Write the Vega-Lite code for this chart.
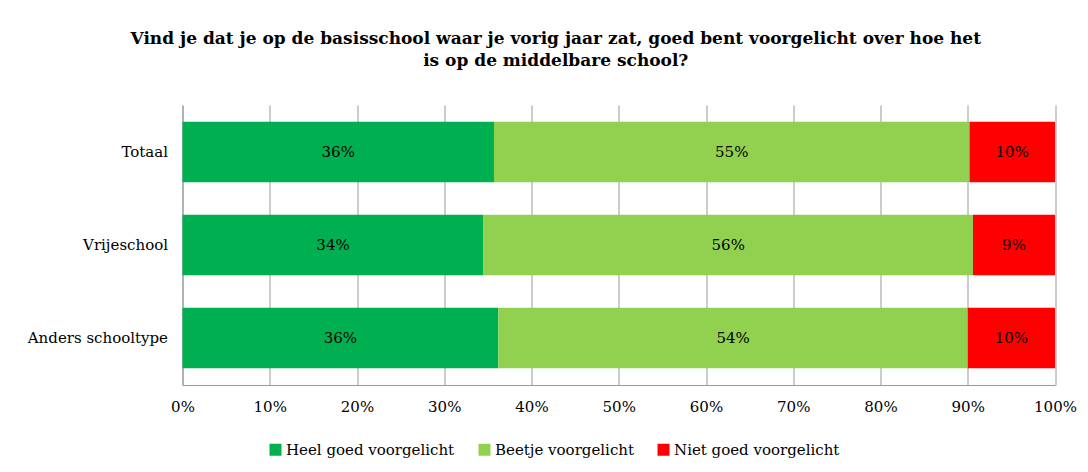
{
  "$schema": "https://vega.github.io/schema/vega-lite/v6.json",
  "autosize": "none",
  "width": 872.5,
  "height": 280,
  "padding": {"left": 182.5, "top": 105, "right": 33, "bottom": 87},
  "background": "white",
  "title": {
    "text": ["Vind je dat je op de basisschool waar je vorig jaar zat, goed bent voorgelicht over hoe het", "is op de middelbare school?"],
    "font": "DejaVu Serif",
    "fontSize": 17,
    "fontWeight": "bold",
    "color": "black",
    "anchor": "middle",
    "dx": -63,
    "offset": 35,
    "lineHeight": 22
  },
  "data": {
    "values": [
      {"category": "Totaal", "response": "Heel goed voorgelicht", "rank": 1, "value": 35.7, "label": "36%"},
      {"category": "Totaal", "response": "Beetje voorgelicht", "rank": 2, "value": 54.5, "label": "55%"},
      {"category": "Totaal", "response": "Niet goed voorgelicht", "rank": 3, "value": 9.8, "label": "10%"},
      {"category": "Vrijeschool", "response": "Heel goed voorgelicht", "rank": 1, "value": 34.5, "label": "34%"},
      {"category": "Vrijeschool", "response": "Beetje voorgelicht", "rank": 2, "value": 56.1, "label": "56%"},
      {"category": "Vrijeschool", "response": "Niet goed voorgelicht", "rank": 3, "value": 9.4, "label": "9%"},
      {"category": "Anders schooltype", "response": "Heel goed voorgelicht", "rank": 1, "value": 36.2, "label": "36%"},
      {"category": "Anders schooltype", "response": "Beetje voorgelicht", "rank": 2, "value": 53.8, "label": "54%"},
      {"category": "Anders schooltype", "response": "Niet goed voorgelicht", "rank": 3, "value": 10.0, "label": "10%"}
    ]
  },
  "transform": [
    {"stack": "value", "groupby": ["category"], "sort": [{"field": "rank", "order": "ascending"}], "as": ["v0", "v1"]},
    {"calculate": "(datum.v0 + datum.v1) / 2", "as": "mid"}
  ],
  "encoding": {
    "y": {
      "field": "category",
      "type": "nominal",
      "sort": null,
      "scale": {"paddingInner": 0.35, "paddingOuter": 0.18},
      "axis": {
        "title": null,
        "ticks": false,
        "domainColor": "#999999",
        "labelFont": "DejaVu Serif",
        "labelFontSize": 15,
        "labelColor": "black",
        "labelPadding": 15
      }
    }
  },
  "layer": [
    {
      "mark": {"type": "bar"},
      "encoding": {
        "x": {
          "field": "v0",
          "type": "quantitative",
          "scale": {"domain": [0, 100], "nice": false},
          "axis": {
            "title": null,
            "values": [0, 10, 20, 30, 40, 50, 60, 70, 80, 90, 100],
            "labelExpr": "datum.value + '%'",
            "grid": true,
            "gridColor": "#999999",
            "domainColor": "#999999",
            "ticks": false,
            "labelFont": "DejaVu Serif",
            "labelFontSize": 15,
            "labelColor": "black",
            "labelPadding": 14,
            "labelFlush": false
          }
        },
        "x2": {"field": "v1"},
        "color": {
          "field": "response",
          "type": "nominal",
          "sort": ["Heel goed voorgelicht", "Beetje voorgelicht", "Niet goed voorgelicht"],
          "scale": {
            "domain": ["Heel goed voorgelicht", "Beetje voorgelicht", "Niet goed voorgelicht"],
            "range": ["#00B050", "#92D050", "#FF0000"]
          },
          "legend": {
            "title": null,
            "orient": "none",
            "legendX": 85.5,
            "legendY": 337,
            "direction": "horizontal",
            "symbolType": "square",
            "symbolSize": 144,
            "symbolStrokeWidth": 0,
            "columnPadding": 22,
            "labelOffset": 3,
            "labelLimit": 400,
            "padding": 0,
            "labelFont": "DejaVu Serif",
            "labelFontSize": 15,
            "labelColor": "black"
          }
        }
      }
    },
    {
      "mark": {"type": "text", "font": "DejaVu Serif", "fontSize": 15, "color": "black"},
      "encoding": {
        "x": {"field": "mid", "type": "quantitative"},
        "text": {"field": "label"}
      }
    }
  ],
  "config": {"view": {"stroke": null}}
}
